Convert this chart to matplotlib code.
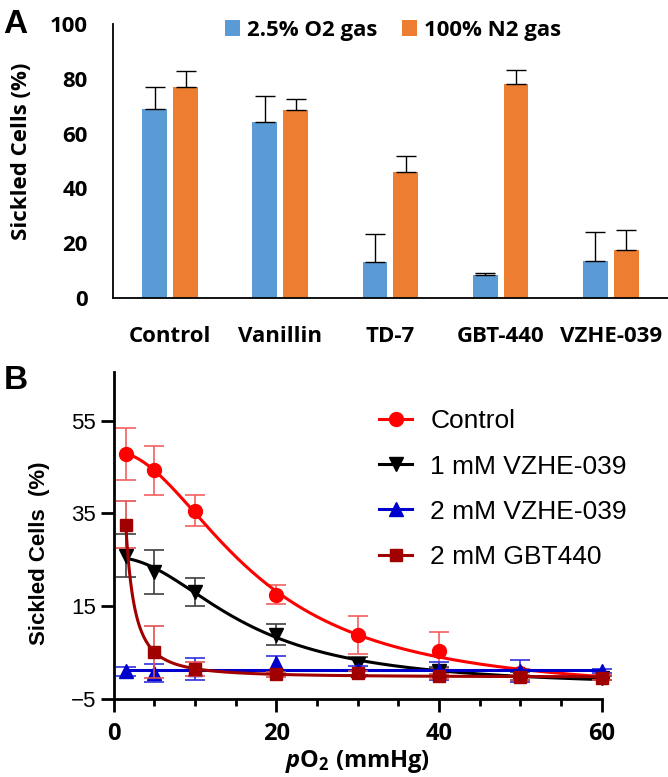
import numpy as np
import matplotlib
matplotlib.use("Agg")
import matplotlib.pyplot as plt
from matplotlib.ticker import MultipleLocator

plt.rcParams['mathtext.fontset'] = 'custom'
plt.rcParams['mathtext.rm'] = 'Open Sans:bold'
plt.rcParams['mathtext.it'] = 'Open Sans:bold:italic'

# ---- panel A data ----
groups = ['Control', 'Vanillin', 'TD-7', 'GBT-440', 'VZHE-039']
o2_mean = [69, 64.2, 13, 8.3, 13.5]
o2_err = [8, 9.6, 10.3, 0.7, 10.5]
n2_mean = [77, 68.5, 46, 78, 17.6]
n2_err = [6, 4.3, 6, 5.3, 7.4]

# ---- panel B data ----
po2 = np.array([1.5, 5, 10, 20, 30, 40, 50, 60])
ctrl = np.array([47.8, 44.3, 35.6, 17.5, 8.8, 5.4, 0.6, -0.3])
ctrl_err = np.array([5.6, 5.3, 3.3, 2.0, 4.2, 4.0, 0.8, 0.5])
vz1 = np.array([25.9, 22.4, 18.1, 8.9, 2.5, 1.0, 0.0, -0.5])
vz1_err = np.array([4.7, 4.7, 3.0, 2.2, 1.5, 1.0, 0.8, 0.5])
vz2 = np.array([1.0, 0.6, 1.5, 2.8, 1.2, 1.0, 1.0, 1.0])
vz2_err = np.array([1.0, 2.0, 2.4, 1.5, 1.0, 2.0, 2.3, 0.5])
gbt = np.array([32.6, 5.2, 1.4, 0.3, 0.5, -0.1, -0.3, -0.4])
gbt_err = np.array([5.1, 5.6, 1.5, 0.5, 0.5, 0.5, 0.5, 0.5])

BOLD = {'family': 'Open Sans', 'weight': 'bold'}


def fit_logistic(x, y):
    # least-squares 4-parameter logistic, grid over x50 and slope
    x50 = np.linspace(0.5, 40, 400)[:, None, None]
    h = np.linspace(0.5, 10, 96)[None, :, None]
    f = 1 / (1 + (x / x50) ** h)
    fm = f.mean(-1, keepdims=True)
    ym = y.mean()
    d = ((f - fm) * (y - ym)).sum(-1, keepdims=True) / ((f - fm) ** 2).sum(-1, keepdims=True)
    b = ym - d * fm
    sse = ((b + d * f - y) ** 2).sum(-1)
    i, j = np.unravel_index(np.argmin(sse), sse.shape)
    return lambda xx: b[i, j, 0] + d[i, j, 0] / (1 + (xx / x50[i, 0, 0]) ** h[0, j, 0])


fig = plt.figure(figsize=(6.68, 7.77), dpi=100)

# ================= A =================
axA = fig.add_axes([0.169, 0.6165, 0.831, 0.3525])
pos = np.arange(len(groups))
w = 0.225
axA.bar(pos - 0.14, o2_mean, w, color='#5B9BD5', label='2.5% O2 gas')
axA.bar(pos + 0.14, n2_mean, w, color='#ED7D31', label='100% N2 gas')
axA.errorbar(pos - 0.14, o2_mean, yerr=[np.zeros(5), o2_err], fmt='none',
             ecolor='black', elinewidth=1, capsize=7, capthick=1)
axA.errorbar(pos + 0.14, n2_mean, yerr=[np.zeros(5), n2_err], fmt='none',
             ecolor='black', elinewidth=1, capsize=7, capthick=1)
axA.set_xlim(-0.52, 4.52)
axA.set_ylim(0, 100)
axA.set_yticks([0, 20, 40, 60, 80, 100])
axA.set_xticks(pos)
axA.set_xticklabels(groups)
for s in ['top', 'right']:
    axA.spines[s].set_visible(False)
for s in ['left', 'bottom']:
    axA.spines[s].set_linewidth(1.3)
axA.tick_params(axis='y', length=0, pad=18)
axA.tick_params(axis='x', length=0, pad=20)
for t in axA.get_xticklabels() + axA.get_yticklabels():
    t.set_fontfamily('Open Sans')
    t.set_fontweight('bold')
    t.set_fontsize(16)
axA.set_ylabel('Sickled Cells (%)', fontsize=16, **BOLD)
axA.yaxis.set_label_coords(-0.145, 0.535)
axA.legend(loc='center', bbox_to_anchor=(0.588, 0.961), bbox_transform=fig.transFigure,
           ncol=2, frameon=False, prop={'family': 'Open Sans', 'weight': 'bold', 'size': 16},
           handlelength=0.7, handleheight=0.7, handletextpad=0.3, columnspacing=1.1)
fig.text(0.005, 0.968, 'A', family='Liberation Sans', weight='bold', fontsize=24, va='center')

# ================= B =================
axB = fig.add_axes([0.170, 0.1004, 0.731, 0.4208])
xx = np.linspace(1.5, 60, 400)
series = [
    ('Control', ctrl, ctrl_err, 'o', '#FF0000', '#F46060', 10, fit_logistic(po2, ctrl)(xx)),
    ('1 mM VZHE-039', vz1, vz1_err, 'v', '#000000', '#404040', 10, fit_logistic(po2, vz1)(xx)),
    ('2 mM VZHE-039', vz2, vz2_err, '^', '#0000CC', '#3030E0', 10, np.full_like(xx, vz2.mean())),
    ('2 mM GBT440', gbt, gbt_err, 's', '#A00000', '#E05050', 9, fit_logistic(po2, gbt)(xx)),
]
for k, (lab, y, e, m, c, ec, ms, curve) in enumerate(series):
    z = 3 + k
    axB.errorbar(po2, y, yerr=e, fmt='none', ecolor=ec, elinewidth=1.2,
                 capsize=7, capthick=1.2, zorder=z, clip_on=False)
    axB.plot(xx, curve, color=c, lw=2.2, zorder=z, clip_on=False)
    axB.plot(po2, y, ls='none', marker=m, color=c, ms=ms, zorder=z, clip_on=False)
    axB.plot([], [], color=c, lw=2.2, marker=m, ms=ms, label=lab)

axB.set_xlim(0, 60)
axB.set_ylim(-5, 65.5)
axB.set_yticks([-5, 15, 35, 55])
axB.xaxis.set_major_locator(MultipleLocator(20))
axB.xaxis.set_minor_locator(MultipleLocator(5))
for s in ['top', 'right']:
    axB.spines[s].set_visible(False)
for s in ['left', 'bottom']:
    axB.spines[s].set_linewidth(2)
axB.tick_params(axis='both', which='major', length=9.5, width=2)
axB.tick_params(axis='x', which='minor', length=5, width=2)
axB.tick_params(axis='y', pad=3)
axB.tick_params(axis='x', pad=7)
for t in axB.get_yticklabels():
    t.set_fontfamily('Liberation Sans')
    t.set_fontsize(16)
for t in axB.get_xticklabels():
    t.set_fontfamily('Open Sans')
    t.set_fontweight('bold')
    t.set_fontsize(17)
axB.set_ylabel('Sickled Cells  (%)', family='Liberation Sans', weight='bold', fontsize=16)
axB.yaxis.set_label_coords(-0.13, 0.445)
axB.set_xlabel(r'$\mathit{p}\mathrm{O_2}$ (mmHg)', fontsize=17, **BOLD)
axB.xaxis.set_label_coords(0.5, -0.15)
axB.legend(loc='upper left', bbox_to_anchor=(0.548, 0.490), bbox_transform=fig.transFigure,
           frameon=False, prop={'family': 'Liberation Sans', 'size': 19},
           handlelength=1.25, handletextpad=0.69, labelspacing=0.8, borderpad=0)
fig.text(0.005, 0.51, 'B', family='Liberation Sans', weight='bold', fontsize=24, va='center')

fig.savefig('out.png', dpi=100)
